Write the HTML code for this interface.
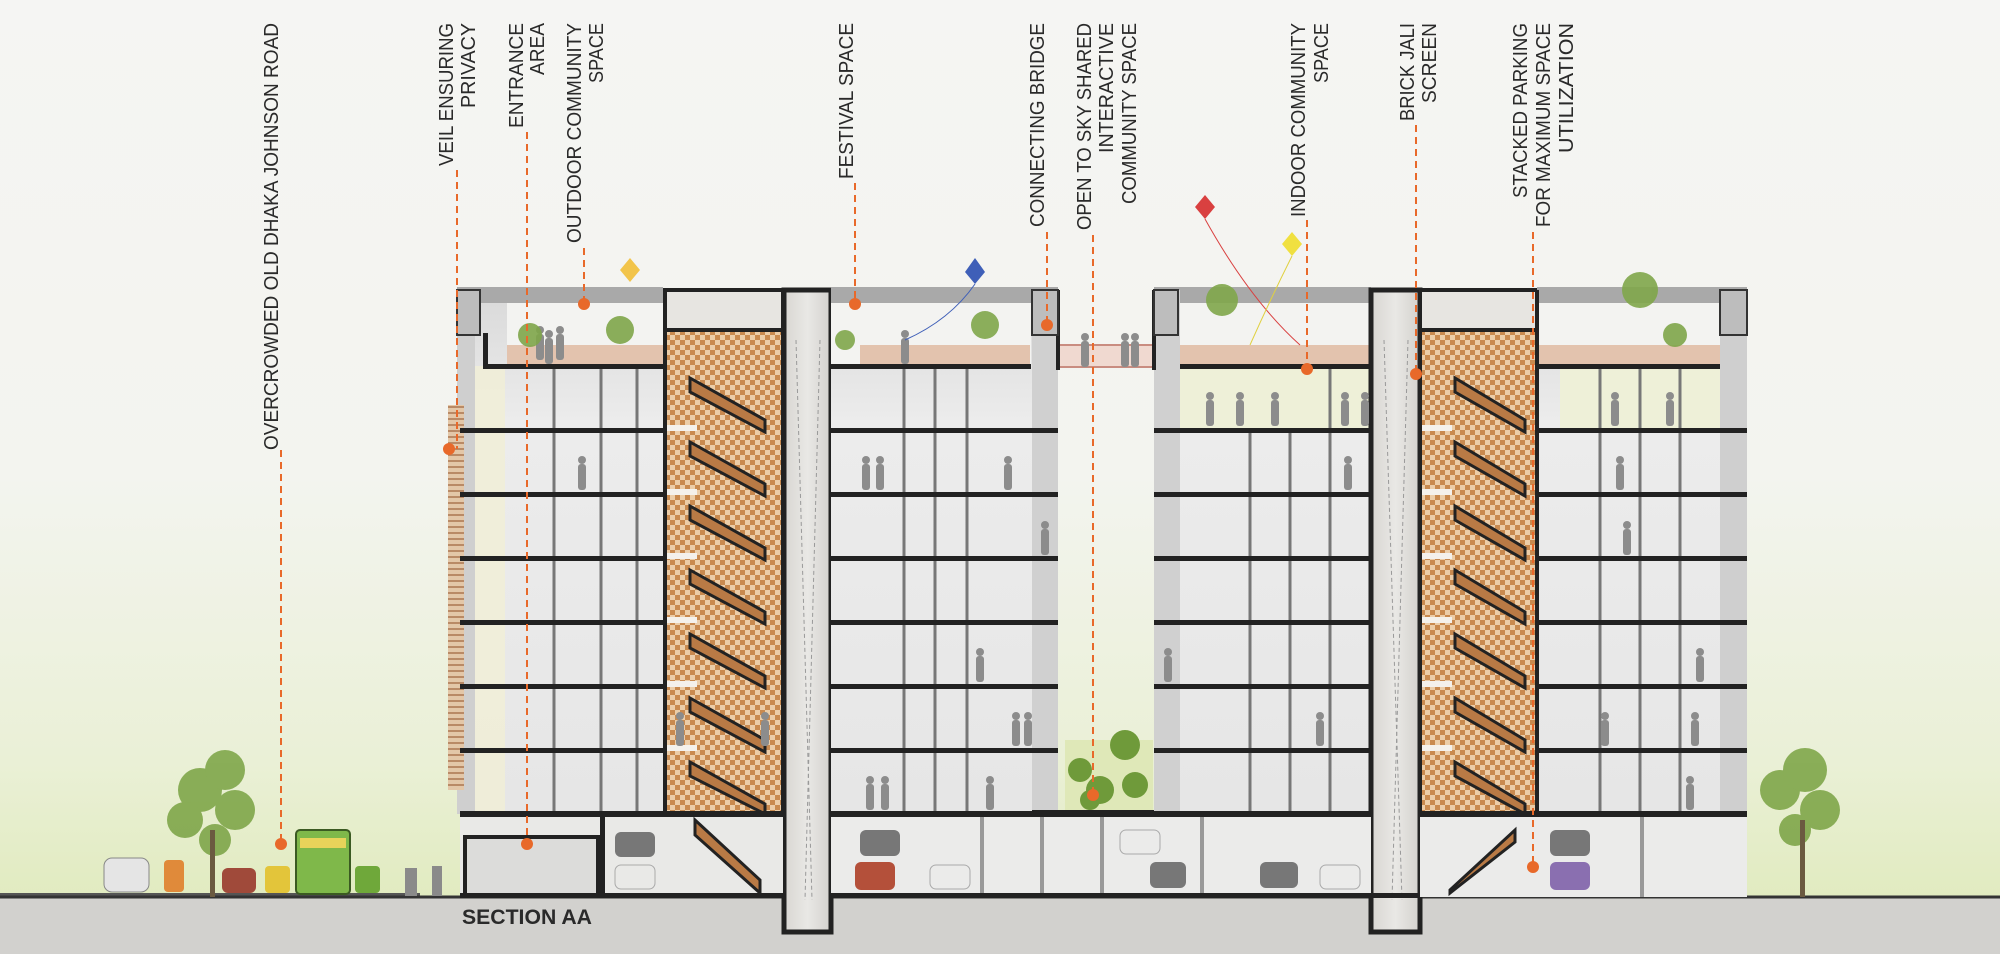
<!DOCTYPE html>
<html><head><meta charset="utf-8"><style>
html,body{margin:0;padding:0;background:#f4f4f2;}
svg{display:block;}
text{font-family:"Liberation Sans",sans-serif;fill:#2a2a2a;}
</style></head><body>
<svg width="2000" height="954" viewBox="0 0 2000 954" xmlns="http://www.w3.org/2000/svg">
<defs>
<linearGradient id="bg" x1="0" y1="0" x2="0" y2="1">
<stop offset="0" stop-color="#f5f5f3"/><stop offset="0.5" stop-color="#f3f4ef"/><stop offset="0.8" stop-color="#eaf0d6"/><stop offset="0.94" stop-color="#e1ebc0"/></linearGradient>
<pattern id="jali" width="10" height="10" patternUnits="userSpaceOnUse">
<rect width="10" height="10" fill="#eccda8"/><rect width="5" height="5" fill="#c98a4f"/><rect x="5" y="5" width="5" height="5" fill="#c98a4f"/></pattern>
<pattern id="slat" width="10" height="6" patternUnits="userSpaceOnUse">
<rect width="10" height="6" fill="#e3c7a8"/><rect y="4" width="10" height="2" fill="#b98a66"/></pattern>
<linearGradient id="conc" x1="0" y1="0" x2="1" y2="0"><stop offset="0" stop-color="#d8d6d2"/><stop offset="0.5" stop-color="#e9e8e5"/><stop offset="1" stop-color="#d3d1cd"/></linearGradient>
<linearGradient id="room" x1="0" y1="0" x2="0" y2="1"><stop offset="0" stop-color="#d9d9d9"/><stop offset="0.25" stop-color="#ececec"/><stop offset="1" stop-color="#e6e6e6"/></linearGradient>
<g id="p"><circle cx="0" cy="-30" r="4"/><rect x="-4" y="-26" width="8" height="26" rx="3"/></g>
</defs>
<rect width="2000" height="954" fill="url(#bg)"/>

<!-- ground -->
<rect x="0" y="897" width="2000" height="57" fill="#d2d1ce"/>
<rect x="0" y="893" width="420" height="5" fill="#555"/>
<line x1="0" y1="897" x2="2000" y2="897" stroke="#333" stroke-width="3"/>

<!-- ===== LEFT BLOCK ===== -->
<g>
<rect x="457" y="290" width="206" height="524" fill="url(#room)"/>
<rect x="475" y="366" width="30" height="448" fill="#f1efd6" opacity="0.8"/>
<rect x="457" y="290" width="18" height="524" fill="#cfcfcf"/>
<rect x="457" y="287" width="206" height="16" fill="#a9a9a9"/>
<rect x="507" y="303" width="156" height="63" fill="#f3f3f1"/>
<rect x="507" y="345" width="156" height="21" fill="#e3c3ae"/>
<g stroke="#777" stroke-width="3"><line x1="554" y1="366" x2="554" y2="814"/><line x1="601" y1="366" x2="601" y2="814"/><line x1="637" y1="366" x2="637" y2="814"/></g>
<rect x="448" y="405" width="16" height="385" fill="url(#slat)"/>
</g>
<!-- left stair core -->
<rect x="665" y="290" width="118" height="524" fill="url(#jali)"/>
<rect x="665" y="290" width="118" height="40" fill="#e7e5e1" stroke="#222" stroke-width="4"/>
<!-- left shaft -->
<rect x="784" y="290" width="47" height="642" fill="url(#conc)" stroke="#222" stroke-width="5"/>
<line x1="796" y1="340" x2="812" y2="900" stroke="#999" stroke-dasharray="4 3"/>
<line x1="820" y1="340" x2="805" y2="900" stroke="#999" stroke-dasharray="4 3"/>

<!-- middle block -->
<rect x="831" y="290" width="227" height="524" fill="url(#room)"/>
<rect x="831" y="287" width="227" height="16" fill="#a9a9a9"/>
<rect x="831" y="303" width="200" height="63" fill="#f3f3f1"/>
<rect x="860" y="345" width="170" height="21" fill="#e3c3ae"/>
<rect x="1032" y="290" width="26" height="524" fill="#d0d0d0"/>
<g stroke="#777" stroke-width="3"><line x1="904" y1="366" x2="904" y2="814"/><line x1="935" y1="366" x2="935" y2="814"/><line x1="967" y1="366" x2="967" y2="814"/></g>

<!-- gap: bridge & garden -->
<rect x="1058" y="345" width="96" height="22" fill="#f0d9d0" stroke="#c98c80" stroke-width="2"/>
<rect x="1065" y="740" width="88" height="75" fill="#dfe8b8"/>
<g fill="#6f9a3a"><circle cx="1080" cy="770" r="12"/><circle cx="1100" cy="790" r="14"/><circle cx="1125" cy="745" r="15"/><circle cx="1135" cy="785" r="13"/><circle cx="1090" cy="800" r="10"/></g>
<rect x="1032" y="810" width="140" height="8" fill="#222"/>

<!-- right block -->
<rect x="1154" y="290" width="217" height="524" fill="url(#room)"/>
<rect x="1154" y="287" width="217" height="16" fill="#a9a9a9"/>
<rect x="1180" y="303" width="191" height="63" fill="#f3f3f1"/>
<rect x="1180" y="345" width="191" height="21" fill="#e3c3ae"/>
<rect x="1180" y="366" width="191" height="64" fill="#eef0d8"/>
<rect x="1154" y="290" width="26" height="524" fill="#d0d0d0"/>
<g stroke="#777" stroke-width="3"><line x1="1250" y1="430" x2="1250" y2="814"/><line x1="1290" y1="430" x2="1290" y2="814"/><line x1="1330" y1="366" x2="1330" y2="814"/></g>
<!-- right shaft -->
<rect x="1371" y="290" width="49" height="642" fill="url(#conc)" stroke="#222" stroke-width="5"/>
<line x1="1384" y1="340" x2="1402" y2="900" stroke="#999" stroke-dasharray="4 3"/>
<line x1="1408" y1="340" x2="1392" y2="900" stroke="#999" stroke-dasharray="4 3"/>
<!-- right stair -->
<rect x="1420" y="290" width="117" height="524" fill="url(#jali)"/>
<rect x="1420" y="290" width="117" height="40" fill="#e7e5e1" stroke="#222" stroke-width="4"/>
<!-- far right block -->
<rect x="1537" y="290" width="210" height="524" fill="url(#room)"/>
<rect x="1537" y="287" width="210" height="16" fill="#a9a9a9"/>
<rect x="1537" y="303" width="183" height="63" fill="#f3f3f1"/>
<rect x="1537" y="345" width="183" height="21" fill="#e3c3ae"/>
<rect x="1560" y="366" width="160" height="64" fill="#eef0d8"/>
<rect x="1720" y="290" width="27" height="524" fill="#cfcfcf"/>
<g stroke="#777" stroke-width="3"><line x1="1600" y1="366" x2="1600" y2="814"/><line x1="1640" y1="366" x2="1640" y2="814"/><line x1="1680" y1="366" x2="1680" y2="814"/></g>

<!-- stairs flights -->
<g fill="#b97a45" stroke="#222" stroke-width="3">
<polygon points="690,378 765,420 765,432 690,392"/><polygon points="690,442 765,484 765,496 690,456"/>
<polygon points="690,506 765,548 765,560 690,520"/><polygon points="690,570 765,612 765,624 690,584"/>
<polygon points="690,634 765,676 765,688 690,648"/><polygon points="690,698 765,740 765,752 690,712"/>
<polygon points="690,762 765,804 765,814 690,776"/>
<polygon points="1455,378 1525,420 1525,432 1455,392"/><polygon points="1455,442 1525,484 1525,496 1455,456"/>
<polygon points="1455,506 1525,548 1525,560 1455,520"/><polygon points="1455,570 1525,612 1525,624 1455,584"/>
<polygon points="1455,634 1525,676 1525,688 1455,648"/><polygon points="1455,698 1525,740 1525,752 1455,712"/>
<polygon points="1455,762 1525,804 1525,814 1455,776"/>
</g>
<g fill="#f4f1ec"><rect x="667" y="425" width="30" height="6"/><rect x="667" y="489" width="30" height="6"/><rect x="667" y="553" width="30" height="6"/><rect x="667" y="617" width="30" height="6"/><rect x="667" y="681" width="30" height="6"/><rect x="667" y="745" width="30" height="6"/>
<rect x="1422" y="425" width="30" height="6"/><rect x="1422" y="489" width="30" height="6"/><rect x="1422" y="553" width="30" height="6"/><rect x="1422" y="617" width="30" height="6"/><rect x="1422" y="681" width="30" height="6"/><rect x="1422" y="745" width="30" height="6"/></g>

<!-- floor slabs -->
<g fill="#222">
<rect x="483" y="364" width="182" height="5"/><rect x="831" y="364" width="200" height="5"/><rect x="1180" y="364" width="193" height="5"/><rect x="1537" y="364" width="183" height="5"/>
<rect x="460" y="428" width="205" height="5"/><rect x="831" y="428" width="227" height="5"/><rect x="1154" y="428" width="217" height="5"/><rect x="1537" y="428" width="210" height="5"/>
<rect x="460" y="492" width="205" height="5"/><rect x="831" y="492" width="227" height="5"/><rect x="1154" y="492" width="217" height="5"/><rect x="1537" y="492" width="210" height="5"/>
<rect x="460" y="556" width="205" height="5"/><rect x="831" y="556" width="227" height="5"/><rect x="1154" y="556" width="217" height="5"/><rect x="1537" y="556" width="210" height="5"/>
<rect x="460" y="620" width="205" height="5"/><rect x="831" y="620" width="227" height="5"/><rect x="1154" y="620" width="217" height="5"/><rect x="1537" y="620" width="210" height="5"/>
<rect x="460" y="684" width="205" height="5"/><rect x="831" y="684" width="227" height="5"/><rect x="1154" y="684" width="217" height="5"/><rect x="1537" y="684" width="210" height="5"/>
<rect x="460" y="748" width="205" height="5"/><rect x="831" y="748" width="227" height="5"/><rect x="1154" y="748" width="217" height="5"/><rect x="1537" y="748" width="210" height="5"/>
<rect x="460" y="811" width="323" height="6"/><rect x="831" y="811" width="540" height="6"/><rect x="1420" y="811" width="327" height="6"/>
<rect x="663" y="290" width="4" height="527"/><rect x="781" y="290" width="4" height="527"/>
<rect x="1418" y="290" width="4" height="527"/><rect x="1535" y="290" width="4" height="527"/>
<rect x="483" y="333" width="5" height="36"/><rect x="1056" y="290" width="4" height="80"/><rect x="1152" y="290" width="4" height="80"/>
</g>

<!-- people silhouettes -->
<g fill="#8c8c8c">
<use href="#p" x="582" y="490"/><use href="#p" x="540" y="360"/><use href="#p" x="560" y="360"/>
<use href="#p" x="866" y="490"/><use href="#p" x="880" y="490"/><use href="#p" x="1008" y="490"/><use href="#p" x="1045" y="555"/>
<use href="#p" x="980" y="682"/><use href="#p" x="1016" y="746"/><use href="#p" x="1028" y="746"/><use href="#p" x="990" y="810"/>
<use href="#p" x="680" y="746"/><use href="#p" x="765" y="746"/><use href="#p" x="870" y="810"/><use href="#p" x="885" y="810"/>
<use href="#p" x="1210" y="426"/><use href="#p" x="1240" y="426"/><use href="#p" x="1275" y="426"/><use href="#p" x="1345" y="426"/><use href="#p" x="1365" y="426"/>
<use href="#p" x="1348" y="490"/><use href="#p" x="1168" y="682"/><use href="#p" x="1320" y="746"/>
<use href="#p" x="1620" y="490"/><use href="#p" x="1627" y="555"/><use href="#p" x="1700" y="682"/><use href="#p" x="1695" y="746"/><use href="#p" x="1605" y="746"/>
<use href="#p" x="1615" y="426"/><use href="#p" x="1670" y="426"/><use href="#p" x="1690" y="810"/>
<use href="#p" x="1085" y="367"/><use href="#p" x="1125" y="367"/><use href="#p" x="1135" y="367"/>
<use href="#p" x="549" y="364"/><use href="#p" x="905" y="364"/><use href="#p" x="575" y="890"/><use href="#p" x="585" y="890"/>
</g>

<!-- parking level -->
<rect x="460" y="817" width="323" height="80" fill="#e9e9e7"/>
<rect x="831" y="817" width="540" height="80" fill="#ebebea"/>
<rect x="1420" y="817" width="327" height="80" fill="#ebebea"/>
<rect x="465" y="837" width="133" height="58" fill="#dcdcda" stroke="#222" stroke-width="4"/>
<rect x="600" y="817" width="5" height="80" fill="#222"/>
<g fill="#777"><rect x="615" y="832" width="40" height="25" rx="6"/><rect x="860" y="830" width="40" height="26" rx="6"/><rect x="1150" y="862" width="36" height="26" rx="6"/><rect x="1260" y="862" width="38" height="26" rx="6"/><rect x="1550" y="830" width="40" height="26" rx="6"/></g>
<rect x="855" y="862" width="40" height="28" rx="6" fill="#b4503a"/>
<rect x="1550" y="862" width="40" height="28" rx="6" fill="#8a6fb0"/>
<g fill="none" stroke="#aaa"><rect x="615" y="865" width="40" height="24" rx="6"/><rect x="930" y="865" width="40" height="24" rx="6"/><rect x="1320" y="865" width="40" height="24" rx="6"/><rect x="1120" y="830" width="40" height="24" rx="6"/></g>
<g fill="#999"><rect x="980" y="817" width="4" height="80"/><rect x="1040" y="817" width="4" height="80"/><rect x="1100" y="817" width="4" height="80"/><rect x="1200" y="817" width="4" height="80"/><rect x="1640" y="817" width="4" height="80"/></g>
<polygon points="695,820 760,880 760,893 695,835" fill="#b97a45" stroke="#222" stroke-width="3"/>
<polygon points="1450,890 1515,830 1515,842 1450,893" fill="#b97a45" stroke="#222" stroke-width="3"/>
<g fill="#222"><rect x="460" y="893" width="323" height="5"/><rect x="831" y="893" width="589" height="5"/></g>

<!-- roof walls -->
<g fill="#bdbdbd" stroke="#333" stroke-width="2">
<polygon points="457,290 480,290 480,335 457,335"/><polygon points="1032,290 1058,290 1058,335 1032,335"/>
<polygon points="1154,290 1178,290 1178,335 1154,335"/><polygon points="1720,290 1747,290 1747,335 1720,335"/></g>

<!-- trees & vehicles -->
<g fill="#7fa64a" opacity="0.9">
<circle cx="200" cy="790" r="22"/><circle cx="225" cy="770" r="20"/><circle cx="185" cy="820" r="18"/><circle cx="235" cy="810" r="20"/><circle cx="215" cy="840" r="16"/>
<circle cx="1780" cy="790" r="20"/><circle cx="1805" cy="770" r="22"/><circle cx="1820" cy="810" r="20"/><circle cx="1795" cy="830" r="16"/>
<circle cx="1640" cy="290" r="18"/><circle cx="1222" cy="300" r="16"/><circle cx="985" cy="325" r="14"/><circle cx="620" cy="330" r="14"/>
<circle cx="530" cy="335" r="12"/><circle cx="845" cy="340" r="10"/><circle cx="1675" cy="335" r="12"/>
</g>
<rect x="210" y="830" width="5" height="67" fill="#6b5a40"/><rect x="1800" y="820" width="5" height="77" fill="#6b5a40"/>
<rect x="296" y="830" width="54" height="64" rx="4" fill="#7fb84a" stroke="#3b5a22" stroke-width="2"/>
<rect x="300" y="838" width="46" height="10" fill="#e8d35a"/>
<rect x="104" y="858" width="45" height="34" rx="8" fill="#e5e5e5" stroke="#888"/>
<rect x="164" y="860" width="20" height="32" rx="4" fill="#e08a3a"/>
<rect x="222" y="868" width="34" height="25" rx="6" fill="#a04a3a"/>
<rect x="265" y="866" width="25" height="27" rx="4" fill="#e3c53a"/>
<rect x="355" y="866" width="25" height="27" rx="4" fill="#6fa83a"/>
<rect x="405" y="868" width="12" height="28" fill="#8a8a8a"/><rect x="432" y="866" width="10" height="30" fill="#8a8a8a"/>

<!-- SECTION AA -->
<text x="462" y="924" font-size="21" font-weight="bold" fill="#1a1a1a" textLength="130" lengthAdjust="spacingAndGlyphs">SECTION AA</text>

<!-- leader lines -->
<g stroke="#e8692a" stroke-width="2" stroke-dasharray="7 5" fill="none">
<line x1="281" y1="450" x2="281" y2="844"/>
<line x1="457" y1="170" x2="457" y2="449"/>
<line x1="527" y1="132" x2="527" y2="844"/>
<line x1="584" y1="248" x2="584" y2="304"/>
<line x1="855" y1="183" x2="855" y2="304"/>
<line x1="1047" y1="232" x2="1047" y2="325"/>
<line x1="1093" y1="235" x2="1093" y2="795"/>
<line x1="1307" y1="220" x2="1307" y2="369"/>
<line x1="1416" y1="125" x2="1416" y2="374"/>
<line x1="1533" y1="232" x2="1533" y2="867"/>
</g>
<g fill="#e8692a">
<circle cx="281" cy="844" r="6"/><circle cx="449" cy="449" r="6"/><circle cx="527" cy="844" r="6"/><circle cx="584" cy="304" r="6"/>
<circle cx="855" cy="304" r="6"/><circle cx="1047" cy="325" r="6"/><circle cx="1093" cy="795" r="6"/><circle cx="1307" cy="369" r="6"/>
<circle cx="1416" cy="374" r="6"/><circle cx="1533" cy="867" r="6"/></g>

<!-- rotated labels -->
<g font-size="20" text-anchor="end">
<text transform="translate(278,23) rotate(-90)" textLength="427" lengthAdjust="spacingAndGlyphs">OVERCROWDED OLD DHAKA JOHNSON ROAD</text>
<text transform="translate(453,23) rotate(-90)" textLength="143" lengthAdjust="spacingAndGlyphs">VEIL ENSURING</text>
<text transform="translate(475,23) rotate(-90)" textLength="85" lengthAdjust="spacingAndGlyphs">PRIVACY</text>
<text transform="translate(523,23) rotate(-90)" textLength="105" lengthAdjust="spacingAndGlyphs">ENTRANCE</text>
<text transform="translate(544,23) rotate(-90)" textLength="52" lengthAdjust="spacingAndGlyphs">AREA</text>
<text transform="translate(581,23) rotate(-90)" textLength="220" lengthAdjust="spacingAndGlyphs">OUTDOOR COMMUNITY</text>
<text transform="translate(603,23) rotate(-90)" textLength="60" lengthAdjust="spacingAndGlyphs">SPACE</text>
<text transform="translate(853,23) rotate(-90)" textLength="156" lengthAdjust="spacingAndGlyphs">FESTIVAL SPACE</text>
<text transform="translate(1044,23) rotate(-90)" textLength="204" lengthAdjust="spacingAndGlyphs">CONNECTING BRIDGE</text>
<text transform="translate(1091,23) rotate(-90)" textLength="207" lengthAdjust="spacingAndGlyphs">OPEN TO SKY SHARED</text>
<text transform="translate(1113,23) rotate(-90)" textLength="130" lengthAdjust="spacingAndGlyphs">INTERACTIVE</text>
<text transform="translate(1136,23) rotate(-90)" textLength="181" lengthAdjust="spacingAndGlyphs">COMMUNITY SPACE</text>
<text transform="translate(1305,23) rotate(-90)" textLength="194" lengthAdjust="spacingAndGlyphs">INDOOR COMMUNITY</text>
<text transform="translate(1328,23) rotate(-90)" textLength="60" lengthAdjust="spacingAndGlyphs">SPACE</text>
<text transform="translate(1414,23) rotate(-90)" textLength="98" lengthAdjust="spacingAndGlyphs">BRICK JALI</text>
<text transform="translate(1436,23) rotate(-90)" textLength="80" lengthAdjust="spacingAndGlyphs">SCREEN</text>
<text transform="translate(1527,23) rotate(-90)" textLength="175" lengthAdjust="spacingAndGlyphs">STACKED PARKING</text>
<text transform="translate(1550,23) rotate(-90)" textLength="204" lengthAdjust="spacingAndGlyphs">FOR MAXIMUM SPACE</text>
<text transform="translate(1573,23) rotate(-90)" textLength="130" lengthAdjust="spacingAndGlyphs">UTILIZATION</text>
</g>

<!-- kites -->
<polygon points="630,258 640,270 630,282 620,270" fill="#f2c44a"/>
<polygon points="975,258 985,272 975,284 965,272" fill="#3f5fb8"/>
<path d="M975,284 Q950,320 905,340" stroke="#3f5fb8" fill="none"/>
<polygon points="1205,195 1215,207 1205,219 1195,207" fill="#d94040"/>
<polygon points="1292,232 1302,244 1292,256 1282,244" fill="#f0e040"/>
<path d="M1205,219 Q1250,300 1300,345" stroke="#d94040" fill="none"/>
<path d="M1292,256 Q1270,300 1250,345" stroke="#e0d040" fill="none"/>
</svg>
</body></html>
